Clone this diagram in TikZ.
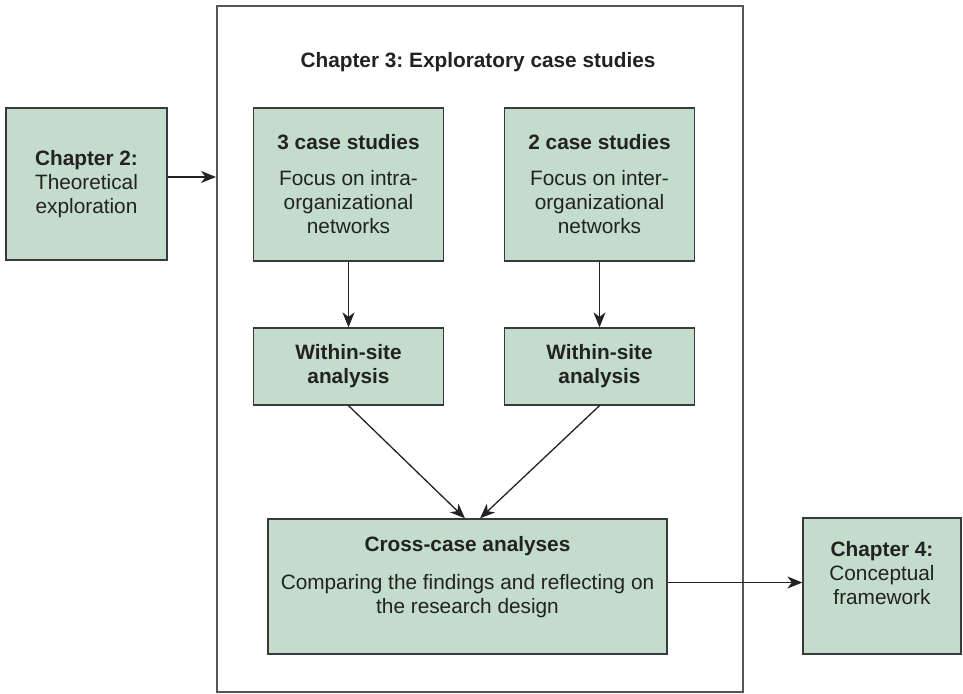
\documentclass[tikz,border=0pt]{standalone}
\usepackage{fontspec}
\setmainfont{Liberation Sans}
\frenchspacing
\usetikzlibrary{arrows.meta}
\definecolor{boxfill}{RGB}{196,220,203}
\definecolor{boxline}{RGB}{58,58,58}
\definecolor{outerline}{RGB}{85,85,85}
\definecolor{txt}{RGB}{34,34,34}
\tikzset{
  gbox/.style={draw=boxline, line width=1.3pt, fill=boxfill, align=center,
    inner sep=0pt, text=txt, font=\fontsize{20.8}{24}\selectfont},
  outerbox/.style={draw=outerline, line width=2pt, inner sep=0pt},
  arr/.style={draw=txt, line width=1.3pt, -{Stealth[length=15pt,width=12pt,inset=4.5pt]}},
  ttl/.style={text=txt, font=\fontsize{20.8}{24}\selectfont\bfseries, inner sep=0pt}
}
\begin{document}
\begin{tikzpicture}[x=1pt,y=-1pt]
\useasboundingbox (0,0) rectangle (963,693);
\node[outerbox, minimum width=526pt, minimum height=686pt] (outer) at (480,349) {};
\node[ttl] (title) at (478,62) {Chapter 3: Exploratory case studies};
\node[gbox, minimum width=161pt, minimum height=152pt] (ch2) at (86.5,184)
  {\textbf{Chapter 2:}\\Theoretical\\exploration};
\node[gbox, minimum width=190pt, minimum height=153pt] (cs3) at (348.5,184.5)
  {\textbf{3 case studies}\\[12pt]Focus on intra-\\organizational\\networks};
\node[gbox, minimum width=190pt, minimum height=153pt] (cs2) at (599.5,184.5)
  {\textbf{2 case studies}\\[12pt]Focus on inter-\\organizational\\networks};
\node[gbox, minimum width=190pt, minimum height=77pt] (ws1) at (348.5,366.5)
  {\textbf{Within-site}\\\textbf{analysis}};
\node[gbox, minimum width=190pt, minimum height=77pt] (ws2) at (599.5,366.5)
  {\textbf{Within-site}\\\textbf{analysis}};
\node[gbox, minimum width=399pt, minimum height=135pt] (cross) at (467.5,586.5)
  {\textbf{Cross-case analyses}\\[14pt]Comparing the findings and reflecting on\\the research design\rule[-24pt]{0pt}{1pt}};
\node[gbox, minimum width=158pt, minimum height=136pt] (ch4) at (882,586)
  {\textbf{Chapter 4:}\\Conceptual\\framework\rule[-26pt]{0pt}{1pt}};
\coordinate (a1) at ([yshift=7pt]ch2.east);
\draw[arr] (a1) -- (a1 -| outer.west);
\draw[arr] (cs3.south) -- (ws1.north);
\draw[arr] (cs2.south) -- (ws2.north);
\draw[arr] (ws1.south) -- ([xshift=-2.5pt]cross.north);
\draw[arr] (ws2.south) -- ([xshift=12.5pt]cross.north);
\coordinate (a2) at ([yshift=4pt]cross.east);
\draw[arr] (a2) -- (a2 -| ch4.west);
\end{tikzpicture}
\end{document}
